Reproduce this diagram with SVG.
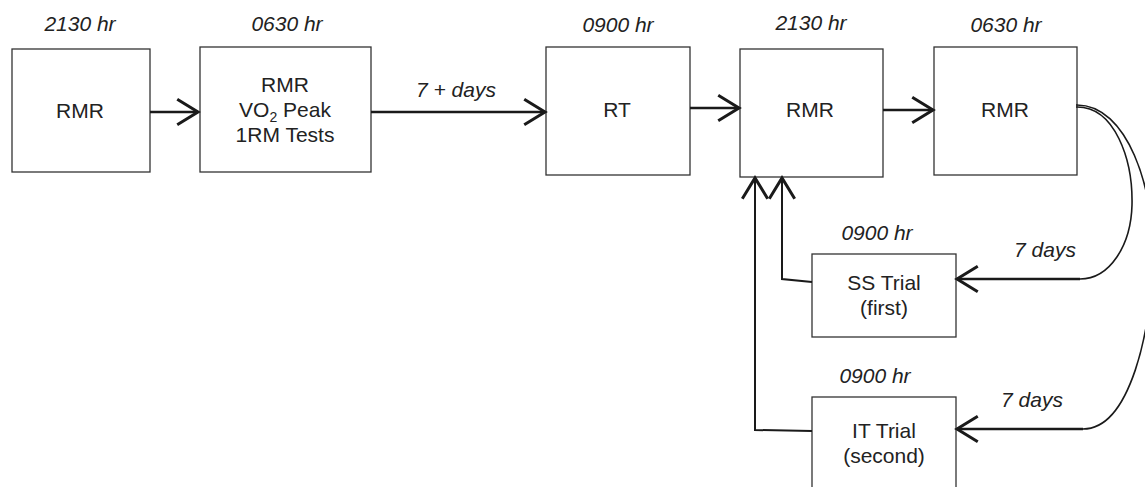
<svg xmlns="http://www.w3.org/2000/svg" width="1145" height="487" viewBox="0 0 1145 487">
<style>
.box{fill:#fff;stroke:#333;stroke-width:1.3}
.t{font-family:"Liberation Sans",Arial,sans-serif;font-size:21px;fill:#222;text-anchor:middle}
.i{font-family:"Liberation Sans",Arial,sans-serif;font-size:21px;font-style:italic;fill:#222;text-anchor:middle}
.c{fill:none;stroke:#1a1a1a;stroke-width:2.6}
.v{fill:none;stroke:#1a1a1a;stroke-width:2}
.cv{fill:none;stroke:#1a1a1a;stroke-width:1.6}
</style>
<defs>
<marker id="arr" markerUnits="userSpaceOnUse" markerWidth="30" markerHeight="30" viewBox="-20 -13 22 26" refX="0" refY="0" orient="auto" overflow="visible">
<path d="M-18,-11 L0,0 L-18,11" fill="none" stroke="#1a1a1a" stroke-width="2.6"/>
</marker>
</defs>
<rect width="1145" height="487" fill="#fff"/>
<g id="n1">
<rect class="box" x="12" y="49" width="138" height="123"/>
<text class="i" x="80" y="31">2130 hr</text>
<text class="t" x="80" y="118">RMR</text>
</g>
<g id="n2">
<rect class="box" x="200" y="47" width="171" height="125"/>
<text class="i" x="287" y="31">0630 hr</text>
<text class="t" x="285" y="92">RMR</text>
<text class="t" x="285" y="117">VO<tspan font-size="14" dy="5">2</tspan><tspan dy="-5"> Peak</tspan></text>
<text class="t" x="285" y="142">1RM Tests</text>
</g>
<g id="n3">
<rect class="box" x="546" y="47" width="144" height="128"/>
<text class="i" x="618" y="32">0900 hr</text>
<text class="t" x="617" y="117">RT</text>
</g>
<g id="n4">
<rect class="box" x="740" y="49" width="143" height="128"/>
<text class="i" x="811" y="30">2130 hr</text>
<text class="t" x="810" y="117">RMR</text>
</g>
<g id="n5">
<rect class="box" x="934" y="47" width="143" height="128"/>
<text class="i" x="1006" y="32">0630 hr</text>
<text class="t" x="1005" y="117">RMR</text>
</g>
<g id="n6">
<rect class="box" x="812" y="254" width="144" height="83"/>
<text class="i" x="877" y="240">0900 hr</text>
<text class="t" x="884" y="290">SS Trial</text>
<text class="t" x="884" y="315">(first)</text>
</g>
<g id="n7">
<rect class="box" x="812" y="397" width="144" height="100"/>
<text class="i" x="875" y="383">0900 hr</text>
<text class="t" x="884" y="438">IT Trial</text>
<text class="t" x="884" y="463">(second)</text>
</g>
<g id="connectors">
<path class="c" d="M150,112 H198" marker-end="url(#arr)"/>
<path class="c" d="M371,112 H545" marker-end="url(#arr)"/>
<text class="i" x="456" y="97">7 + days</text>
<path class="c" d="M690,108 H739" marker-end="url(#arr)"/>
<path class="c" d="M883,110 H933" marker-end="url(#arr)"/>
<path class="v" d="M812,282 L782,279 V178" marker-end="url(#arr)"/>
<path class="v" d="M812,431 L755,430 V178" marker-end="url(#arr)"/>
<path class="c" d="M1080,279 H957" marker-end="url(#arr)"/>
<path class="c" d="M1083,429 H957" marker-end="url(#arr)"/>
<path class="cv" d="M1076,107 C1115,106 1133,160 1132,205 C1131,245 1110,279 1080,279"/>
<path class="cv" d="M1076,105 C1128,104 1154,190 1153,255 C1152,330 1130,429 1083,429"/>
<text class="i" x="1045" y="257">7 days</text>
<text class="i" x="1032" y="407">7 days</text>
</g>
</svg>
